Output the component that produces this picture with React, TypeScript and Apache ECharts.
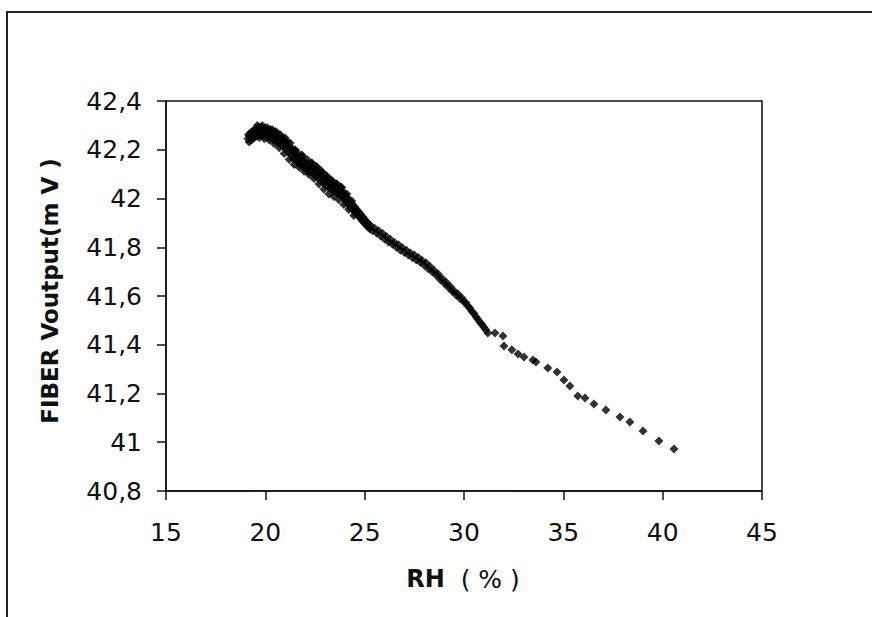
import React, { useEffect, useRef } from "react";
import * as echarts from "echarts";

const xTicks = { min: 15, max: 45, interval: 5 };
const yTicks = { min: 40.8, max: 42.4, interval: 0.2 };

const xTitleMain = "RH";
const xTitleUnit = "( % )";
const yTitle = "FIBER Voutput(m V )";

// Dense band (RH %, mV)
const denseRH = [
  19.12, 19.15, 19.18, 19.22, 19.26, 19.3, 19.34, 19.38, 19.42, 19.46, 19.5, 19.55, 19.6, 19.64, 19.68, 19.72,
  19.77, 19.82, 19.86, 19.9, 19.95, 20.0, 20.05, 20.1, 20.15, 20.2, 20.25, 20.3, 20.35, 20.4, 20.45, 20.5,
  20.55, 20.6, 20.65, 20.7, 20.75, 20.8, 20.85, 20.9, 20.95, 21.0, 21.05, 21.1, 21.15, 21.2, 21.25, 21.3,
  21.35, 21.4, 21.45, 21.5, 21.55, 21.6, 21.65, 21.7, 21.75, 21.8, 21.85, 21.9, 21.95, 22.0, 22.05, 22.1,
  22.15, 22.2, 22.25, 22.3, 22.35, 22.4, 22.45, 22.5, 22.55, 22.6, 22.65, 22.7, 22.75, 22.8, 22.85, 22.9,
  22.95, 23.0, 23.05, 23.1, 23.15, 23.2, 23.25, 23.3, 23.35, 23.4, 23.45, 23.5, 23.55, 23.6, 23.65, 23.7,
  23.75, 23.8, 23.85, 23.9, 23.95, 24.0, 24.05, 24.1, 24.15, 24.2, 24.25, 24.3, 24.35, 24.4, 24.45, 24.5,
  24.55, 24.6, 24.65, 24.7, 24.75, 24.8, 24.85, 24.9, 24.95, 25.0, 25.05, 25.1, 25.15, 25.2, 25.25, 25.3,
  25.4, 25.5, 25.6, 25.7, 25.8, 25.9, 26.0, 26.1, 26.2, 26.3, 26.4, 26.5, 26.6, 26.7, 26.8, 26.9,
  27.0, 27.1, 27.2, 27.3, 27.4, 27.5, 27.6, 27.7, 27.8, 27.9, 28.0, 28.1, 28.2, 28.3, 28.4, 28.5,
  28.6, 28.7, 28.8, 28.9, 29.0, 29.1, 29.2, 29.3, 29.4, 29.5, 29.6, 29.7, 29.8, 29.9, 30.0, 30.1,
  30.2, 30.3, 30.4, 30.5, 30.6, 30.7, 30.8, 30.9, 31.0, 31.1,
];
const denseMV = [
  42.245, 42.262, 42.232, 42.255, 42.27, 42.24, 42.258, 42.278, 42.248, 42.266, 42.285, 42.255, 42.272, 42.29, 42.262, 42.28,
  42.293, 42.268, 42.285, 42.258, 42.276, 42.29, 42.262, 42.278, 42.25, 42.27, 42.283, 42.252, 42.268, 42.242, 42.262, 42.275,
  42.238, 42.255, 42.228, 42.248, 42.262, 42.225, 42.242, 42.212, 42.232, 42.248, 42.205, 42.222, 42.19, 42.21, 42.228, 42.178,
  42.195, 42.165, 42.185, 42.2, 42.158, 42.175, 42.15, 42.168, 42.138, 42.155, 42.172, 42.132, 42.15, 42.125, 42.145, 42.118,
  42.138, 42.11, 42.13, 42.145, 42.108, 42.125, 42.098, 42.118, 42.132, 42.09, 42.108, 42.08, 42.1, 42.115, 42.072, 42.09,
  42.062, 42.08, 42.095, 42.055, 42.072, 42.045, 42.062, 42.078, 42.04, 42.056, 42.03, 42.048, 42.062, 42.025, 42.042, 42.018,
  42.035, 42.048, 42.01, 42.028, 42.0, 42.018, 41.99, 42.005, 41.98, 41.995, 41.968, 41.985, 41.96, 41.975, 41.95, 41.965,
  41.94, 41.955, 41.932, 41.946, 41.922, 41.935, 41.912, 41.925, 41.902, 41.915, 41.893, 41.905, 41.884, 41.896, 41.876, 41.888,
  41.868, 41.878, 41.858, 41.868, 41.846, 41.856, 41.834, 41.844, 41.822, 41.832, 41.812, 41.82, 41.8, 41.81, 41.788, 41.798,
  41.778, 41.788, 41.768, 41.776, 41.758, 41.768, 41.748, 41.758, 41.738, 41.746, 41.726, 41.735, 41.712, 41.72, 41.7, 41.705,
  41.685, 41.69, 41.668, 41.672, 41.652, 41.656, 41.636, 41.64, 41.62, 41.622, 41.604, 41.608, 41.59, 41.592, 41.575, 41.572,
  41.558, 41.55, 41.536, 41.528, 41.515, 41.505, 41.492, 41.484, 41.472, 41.462,
];

// Scattered readings on the edges of the dense band
const edgeRH = [
  19.6, 19.85, 20.1, 20.35, 20.6, 20.85, 21.1, 21.35, 21.6, 21.85, 22.1, 22.35, 22.6, 22.85, 23.1, 23.35, 23.6, 23.85, 24.1, 24.35,
  19.7, 19.95, 20.2, 20.45, 20.7, 20.95, 21.2, 21.45, 21.7, 21.95, 22.2, 22.45, 22.7, 22.95, 23.2, 23.45, 23.7, 23.95, 24.2, 24.45,
];
const edgeMV = [
  42.3, 42.298, 42.29, 42.282, 42.27, 42.25, 42.232, 42.205, 42.19, 42.178, 42.16, 42.146, 42.128, 42.108, 42.088, 42.07, 42.058, 42.044, 42.018, 41.99,
  42.25, 42.245, 42.24, 42.225, 42.208, 42.185, 42.16, 42.14, 42.128, 42.112, 42.098, 42.082, 42.06, 42.038, 42.018, 42.008, 41.995, 41.975, 41.955, 41.93,
];

// Sparse tail
const sparseRH = [
  31.2, 31.56, 31.96, 32.01, 32.41, 32.72, 33.02, 33.47, 33.62, 34.22, 34.68, 35.03, 35.33, 35.73, 36.09, 36.54,
  37.14, 37.85, 38.35, 39.01, 39.81, 40.57,
];
const sparseMV = [
  41.448, 41.448, 41.436, 41.395, 41.379, 41.362, 41.35, 41.337, 41.329, 41.305, 41.288, 41.255, 41.231, 41.19, 41.182, 41.157,
  41.132, 41.104, 41.083, 41.046, 41.005, 40.972,
];

const fmt = (v: number) => String(+v.toFixed(1)).replace(".", ",");

export default function App() {
  const ref = useRef<HTMLDivElement>(null);
  useEffect(() => {
    if (!ref.current) return;
    const chart = echarts.init(ref.current, null, { renderer: "svg" });
    const data: number[][] = [];
    denseRH.forEach((x, i) => data.push([x, denseMV[i]]));
    edgeRH.forEach((x, i) => data.push([x, edgeMV[i]]));
    sparseRH.forEach((x, i) => data.push([x, sparseMV[i]]));
    const axisCommon = {
      splitLine: { show: false },
      axisLine: { show: true, onZero: false, lineStyle: { color: "#111", width: 1.5 } },
      axisTick: { show: true, inside: false, length: 9, lineStyle: { color: "#111", width: 1.5 } },
    };
    chart.setOption({
      animation: false,
      backgroundColor: "#fff",
      grid: {
        left: 166,
        top: 101,
        width: 596,
        height: 390,
        show: true,
        borderColor: "#111",
        borderWidth: 1.5,
        backgroundColor: "transparent",
      },
      xAxis: {
        type: "value",
        min: xTicks.min,
        max: xTicks.max,
        interval: xTicks.interval,
        ...axisCommon,
        axisLabel: {
          margin: 29,
          color: "#111",
          fontFamily: "DejaVu Sans",
          fontSize: 25,
          formatter: fmt,
        },
      },
      yAxis: {
        type: "value",
        min: yTicks.min,
        max: yTicks.max,
        interval: yTicks.interval,
        ...axisCommon,
        axisLabel: {
          margin: 24,
          color: "#111",
          fontFamily: "DejaVu Sans",
          fontSize: 25,
          formatter: fmt,
        },
      },
      series: [
        {
          type: "scatter",
          data,
          symbol: "diamond",
          symbolSize: 9,
          itemStyle: { color: "#000" },
        },
      ],
      graphic: [
        {
          type: "polyline",
          shape: { points: [[7, 617], [7, 12], [872, 12]] },
          style: { stroke: "#222", lineWidth: 2, fill: "none" },
        },
        {
          type: "text",
          x: 50,
          y: 291,
          rotation: Math.PI / 2,
          style: {
            text: yTitle,
            fontFamily: "DejaVu Sans",
            fontWeight: "bold",
            fontSize: 23,
            fill: "#111",
            align: "center",
            verticalAlign: "middle",
          },
        },
        {
          type: "text",
          x: 463,
          y: 579,
          style: {
            text: "{b|" + xTitleMain + "}{r|  " + xTitleUnit + "}",
            align: "center",
            verticalAlign: "middle",
            rich: {
              b: { fontFamily: "DejaVu Sans", fontWeight: "bold", fontSize: 24, fill: "#111" },
              r: { fontFamily: "DejaVu Sans", fontSize: 25, fill: "#111" },
            },
          },
        },
      ],
    });
    return () => chart.dispose();
  }, []);
  return (
    <div
      ref={ref}
      style={{ position: "fixed", left: 0, top: 0, width: 872, height: 617, background: "#fff" }}
    />
  );
}
